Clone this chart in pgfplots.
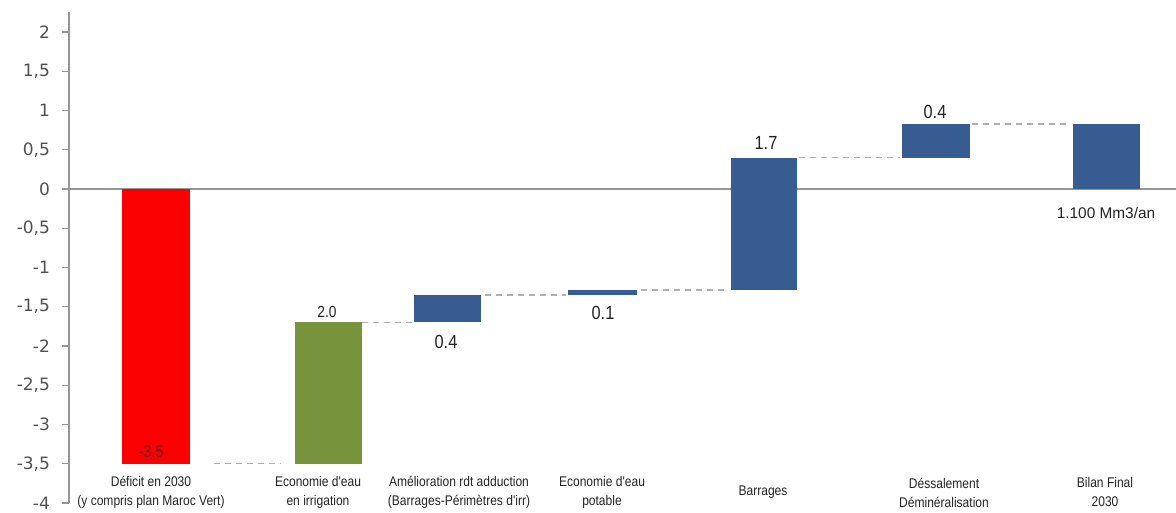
\documentclass[border=0pt]{standalone}
\usepackage{fontspec}
\setmainfont{Liberation Sans}
\newfontfamily\narrowfont[FakeStretch=0.86]{Liberation Sans}
\newfontfamily\tickfont{DejaVu Sans}
\usepackage{pgfplots}
\pgfplotsset{compat=1.18}
\definecolor{barred}{RGB}{250,0,0}
\definecolor{bargreen}{RGB}{119,147,60}
\definecolor{barblue}{RGB}{54,92,145}
\definecolor{axisgray}{RGB}{150,150,150}
\definecolor{dashgray}{RGB}{175,175,175}
\definecolor{tickgray}{RGB}{80,80,80}
\definecolor{txt}{RGB}{35,35,35}
\definecolor{darkred}{RGB}{120,20,20}
\begin{document}
\begin{tikzpicture}
\path[use as bounding box] (-34.5pt,-5pt) rectangle (553.5pt,251.5pt);
\begin{axis}[
  at={(0,0)}, anchor=south west,
  scale only axis, width=553.5pt, height=245.3pt,
  xmin=69, xmax=1176, ymin=-4, ymax=2.25,
  axis x line=none,
  axis y line*=left,
  y axis line style={-, draw=axisgray, line width=0.75pt},
  ytick={-4,-3.5,-3,-2.5,-2,-1.5,-1,-0.5,0,0.5,1,1.5,2},
  tick align=outside, major tick length=3.5pt,
  ytick style={draw=axisgray, line width=0.6pt},
  yticklabel style={font=\tickfont\fontsize{8.5}{10}\selectfont, text=tickgray, xshift=-2.5pt,
    /pgf/number format/use comma, /pgf/number format/assume math mode=true},
  clip=false,
]
% zero line
\addplot[draw=axisgray, line width=1pt] coordinates {(69,0) (1176,0)};
% connectors
\addplot[draw=dashgray, line width=0.75pt, dash pattern=on 3pt off 2.5pt] coordinates {(214,-3.5) (281,-3.5)};
\addplot[draw=dashgray, line width=0.75pt, dash pattern=on 3pt off 2.5pt] coordinates {(362,-1.7) (414,-1.7)};
\addplot[draw=dashgray, line width=0.75pt, dash pattern=on 3pt off 2.5pt] coordinates {(485,-1.35) (566,-1.35)};
\addplot[draw=dashgray, line width=0.75pt, dash pattern=on 3pt off 2.5pt] coordinates {(641,-1.285) (727,-1.285)};
\addplot[draw=dashgray, line width=0.75pt, dash pattern=on 3pt off 2.5pt] coordinates {(799,0.4) (900,0.4)};
\addplot[draw=dashgray, line width=0.75pt, dash pattern=on 3pt off 2.5pt] coordinates {(972,0.83) (1071,0.83)};
% bars
\addplot[fill=barred, draw=none] coordinates {(122,0) (190,0) (190,-3.5) (122,-3.5)};
\addplot[fill=bargreen, draw=none] coordinates {(295,-3.5) (362,-3.5) (362,-1.7) (295,-1.7)};
\addplot[fill=barblue, draw=none] coordinates {(414,-1.7) (481,-1.7) (481,-1.35) (414,-1.35)};
\addplot[fill=barblue, draw=none] coordinates {(568,-1.35) (637,-1.35) (637,-1.285) (568,-1.285)};
\addplot[fill=barblue, draw=none] coordinates {(731,-1.285) (797,-1.285) (797,0.4) (731,0.4)};
\addplot[fill=barblue, draw=none] coordinates {(902,0.4) (970,0.4) (970,0.83) (902,0.83)};
\addplot[fill=barblue, draw=none] coordinates {(1073,0) (1140,0) (1140,0.83) (1073,0.83)};
% value labels
\node[font=\narrowfont\fontsize{8.5}{10}\selectfont, text=darkred] at (axis cs:151,-3.35) {-3.5};
\node[font=\narrowfont\fontsize{8}{10}\selectfont, text=txt] at (axis cs:327,-1.57) {2.0};
\node[font=\narrowfont\fontsize{9.5}{10}\selectfont, text=txt] at (axis cs:446,-1.95) {0.4};
\node[font=\narrowfont\fontsize{9.5}{10}\selectfont, text=txt] at (axis cs:603,-1.58) {0.1};
\node[font=\narrowfont\fontsize{9.5}{10}\selectfont, text=txt] at (axis cs:766,0.59) {1.7};
\node[font=\narrowfont\fontsize{9.5}{10}\selectfont, text=txt] at (axis cs:935,0.98) {0.4};
\node[font=\fontsize{7.7}{9}\selectfont, text=txt] at (axis cs:1106,-0.31) {1.100 Mm3/an};
% category labels
\begin{scope}[every node/.style={font=\narrowfont\fontsize{7}{9.5}\selectfont, text=txt, align=center}]
\node at (axis cs:151,-3.866) {Déficit en 2030\\(y compris plan Maroc Vert)};
\node at (axis cs:318,-3.866) {Economie d'eau\\en irrigation};
\node at (axis cs:459,-3.866) {Amélioration rdt adduction\\(Barrages-Périmètres d'irr)};
\node at (axis cs:602,-3.866) {Economie d'eau\\potable};
\node at (axis cs:763,-3.866) {Barrages};
\node at (axis cs:944,-3.866) {Déssalement\\Déminéralisation};
\node at (axis cs:1105,-3.866) {Bilan Final\\2030};
\end{scope}
\end{axis}
\end{tikzpicture}
\end{document}
